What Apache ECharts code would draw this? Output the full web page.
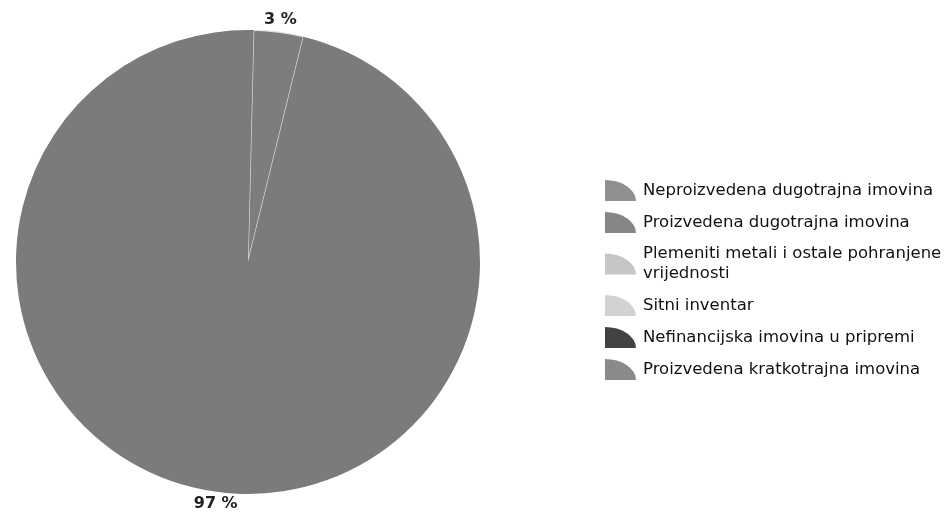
<!DOCTYPE html>
<html>
<head>
<meta charset="utf-8">
<script src="https://cdn.jsdelivr.net/npm/echarts@6/dist/echarts.min.js"></script>
<style>
html,body{margin:0;padding:0;background:#fff;}
#chart{width:948px;height:517px;}
</style>
</head>
<body>
<div id="chart"></div>
<script>
var categories = [
  'Neproizvedena dugotrajna imovina',
  'Proizvedena dugotrajna imovina',
  'Plemeniti metali i ostale pohranjene vrijednosti',
  'Sitni inventar',
  'Nefinancijska imovina u pripremi',
  'Proizvedena kratkotrajna imovina'
];
var values = [3.45, 96.55, 0, 0, 0, 0];
var sliceColors = ['#7d7d7d', '#7b7b7b', '#c6c6c6', '#d2d2d2', '#424242', '#8a8a8a'];
var legendColors = ['#8f8f8f', '#868686', '#c6c6c6', '#d2d2d2', '#424242', '#8a8a8a'];

var chart = echarts.init(document.getElementById('chart'), null, {renderer: 'canvas'});

var data = categories.map(function (name, i) {
  var item = {
    name: name,
    value: values[i],
    itemStyle: {color: sliceColors[i], borderWidth: 0}
  };
  if (values[i] === 0) {
    item.label = {show: false};
  }
  if (i === 0) {
    item.itemStyle.borderColor = '#e4e4e4';
    item.itemStyle.borderWidth = 1.2;
  }
  return item;
});

var legendData = categories.map(function (name, i) {
  return {name: name, itemStyle: {color: legendColors[i], borderWidth: 0}};
});

chart.setOption({
  animation: false,
  backgroundColor: '#ffffff',
  legend: {
    orient: 'vertical',
    left: 600,
    top: 175,
    itemWidth: 31,
    itemHeight: 21,
    itemGap: 11,
    icon: 'path://M0,21 L0,0 A31,21 0 0 1 31,21 Z',
    data: legendData,
    formatter: function (name) {
      if (name === categories[2]) {
        return 'Plemeniti metali i ostale pohranjene\nvrijednosti';
      }
      return name;
    },
    textStyle: {
      fontFamily: 'DejaVu Sans',
      fontSize: 16.5,
      color: '#111',
      lineHeight: 20,
      padding: [0, 0, 0, 2]
    },
    selectedMode: false
  },
  series: [{
    type: 'pie',
    center: [248, 262],
    radius: 232,
    startAngle: 88.6,
    clockwise: true,
    avoidLabelOverlap: false,
    stillShowZeroSum: true,
    label: {
      show: true,
      position: 'outside',
      distanceToLabelLine: 0,
      fontFamily: 'DejaVu Sans',
      fontSize: 16,
      fontWeight: 'bold',
      color: '#222',
      formatter: function (p) {
        return Math.round(p.percent) + ' %';
      }
    },
    labelLine: {show: false, length: 12, length2: 0},
    labelLayout: {align: 'center'},
    emphasis: {disabled: true},
    data: data
  }]
});
</script>
</body>
</html>
